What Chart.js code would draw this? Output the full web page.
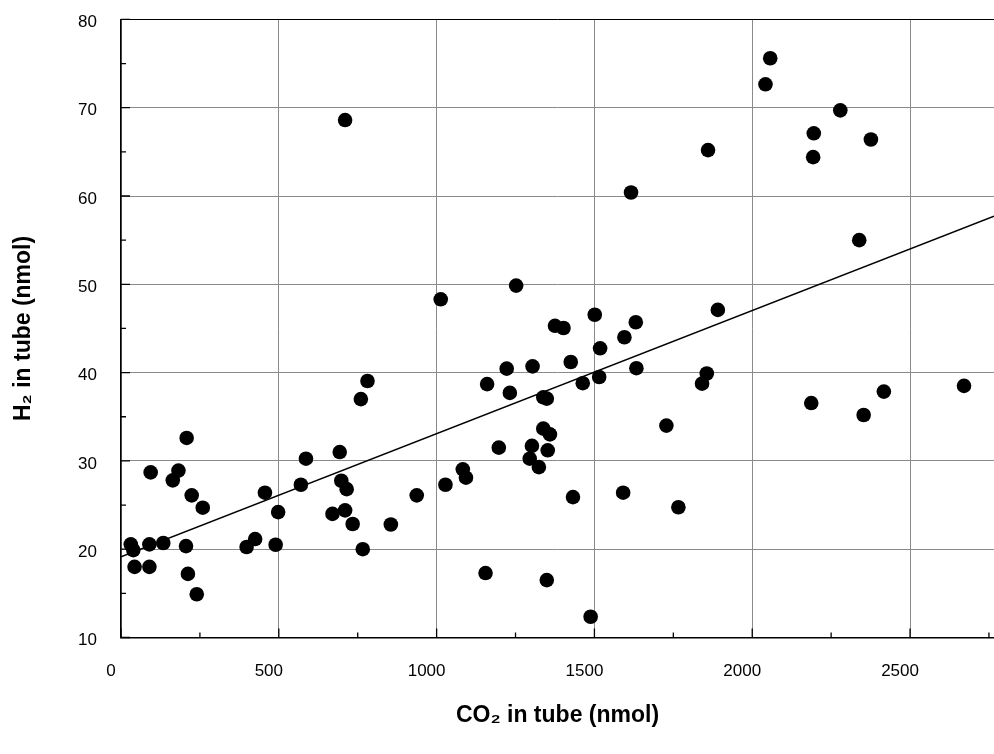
<!DOCTYPE html>
<html>
<head>
<meta charset="utf-8">
<script src="https://cdn.jsdelivr.net/npm/chart.js@4.4.0/dist/chart.umd.min.js"></script>
<style>
  html, body { margin: 0; padding: 0; background: #fff; }
  #wrap { width: 994px; height: 754px; }
</style>
</head>
<body>
<div id="wrap"><canvas id="chart" width="994" height="754"></canvas></div>
<script>
const co2 = [
    208, 94, 182, 164, 224, 259, 31, 39, 90, 134, 206, 43, 90, 212, 240,
    398, 425, 456, 498, 490, 570, 586,
    781, 760, 693, 698, 715, 670, 710, 734, 855, 766, 937, 1028, 1083, 1093, 710,
    1252, 1013, 1501, 1375, 1402, 1518, 1425, 1222, 1304, 1160, 1232, 1338, 1349,
    1463, 1515, 1338, 1359, 1197, 1302, 1352, 1295, 1324, 1432, 1155, 1349, 1488,
    1631, 1595, 1633, 1891, 1856, 1841, 1728, 1591, 1766,
    2057, 2042, 2279, 2195, 2376, 2193, 1860, 1616, 2339,
    2187, 2353, 2417, 2671
];
const h2 = [
    32.6, 28.7, 28.9, 27.8, 26.1, 24.7, 20.55, 19.9, 20.55, 20.7, 20.35, 18.0, 18.0, 17.2, 14.9,
    20.25, 21.15, 26.4, 24.2, 20.5, 27.3, 30.25,
    39.05, 37.0, 31.0, 27.75, 26.8, 24.0, 24.4, 22.85, 22.8, 20.0, 26.1, 27.3, 29.05, 28.1, 68.6,
    49.85, 48.3, 46.55, 45.3, 45.05, 42.75, 41.2, 40.45, 40.7, 38.7, 37.7, 37.2, 37.05,
    38.8, 39.5, 33.65, 33.0, 31.5, 31.7, 31.2, 30.25, 29.3, 25.9, 17.3, 16.5, 12.35,
    45.7, 44.0, 40.5, 47.1, 39.9, 38.75, 34.0, 26.4, 24.75,
    75.6, 72.65, 69.7, 67.1, 66.4, 64.4, 65.2, 60.4, 55.0,
    36.55, 35.2, 37.85, 38.5
];

// Linear fit shown in the figure
const fitIntercept = 19.15;
const fitSlope = 0.01394;

// Axis ranges and ticks
const xMin = 0, xMax = 2766;
const yMin = 10, yMax = 80;
const xTickValues = [0, 500, 1000, 1500, 2000, 2500];
const xMinorTicks = [250, 750, 1250, 1750, 2250, 2750];
const yTickValues = [10, 20, 30, 40, 50, 60, 70, 80];
const yMinorTicks = [15, 25, 35, 45, 55, 65, 75];

const points = co2.map((x, i) => ({ x: x, y: h2[i] }));
const fitLine = [xMin, xMax].map(x => ({ x: x, y: fitIntercept + fitSlope * x }));

const FONT = "'Liberation Sans', Arial, sans-serif";

// Inward tick marks on both axes
const tickMarks = {
    id: 'tickMarks',
    afterDatasetsDraw(chart) {
        const { ctx, chartArea, scales } = chart;
        ctx.save();
        ctx.strokeStyle = '#000';
        ctx.lineWidth = 1.3;
        ctx.beginPath();
        const markX = (vals, len) => {
            vals.forEach(v => {
                const px = scales.x.getPixelForValue(v);
                if (px > chartArea.right) return;
                ctx.moveTo(px, chartArea.bottom);
                ctx.lineTo(px, chartArea.bottom - len);
            });
        };
        const markY = (vals, len) => {
            vals.forEach(v => {
                const py = scales.y.getPixelForValue(v);
                ctx.moveTo(chartArea.left, py);
                ctx.lineTo(chartArea.left + len, py);
            });
        };
        markX(xTickValues, 9);
        markX(xMinorTicks, 5);
        markY(yTickValues, 9);
        markY(yMinorTicks, 5);
        ctx.stroke();
        ctx.restore();
    }
};

new Chart(document.getElementById('chart'), {
    type: 'scatter',
    data: {
        datasets: [
            {
                data: points,
                backgroundColor: '#000',
                borderColor: '#000',
                pointRadius: 7.3,
                pointHoverRadius: 7.3,
                borderWidth: 0
            },
            {
                type: 'line',
                data: fitLine,
                borderColor: '#000',
                borderWidth: 1.5,
                pointRadius: 0,
                fill: false
            }
        ]
    },
    options: {
        responsive: false,
        animation: false,
        layout: { autoPadding: false, padding: { left: 0, top: 19.4, right: 0, bottom: 0 } },
        plugins: {
            legend: { display: false },
            tooltip: { enabled: false }
        },
        scales: {
            x: {
                type: 'linear',
                min: xMin,
                max: xMax,
                afterBuildTicks: s => { s.ticks = xTickValues.map(v => ({ value: v })); },
                afterFit: s => { s.height = 116.5; },
                grid: {
                    color: '#8a8a8a',
                    lineWidth: 1,
                    drawTicks: false
                },
                border: { color: '#000', width: 1.5 },
                ticks: {
                    color: '#000',
                    font: { family: FONT, size: 17 },
                    padding: 24,
                    labelOffset: -10,
                    maxRotation: 0,
                    callback: v => String(v)
                },
                title: {
                    display: true,
                    text: 'CO₂ in tube (nmol)',
                    color: '#000',
                    font: { family: FONT, size: 23, weight: 'bold' },
                    padding: { top: 0, bottom: 25 }
                }
            },
            y: {
                type: 'linear',
                min: yMin,
                max: yMax,
                afterBuildTicks: s => { s.ticks = yTickValues.map(v => ({ value: v })); },
                afterFit: s => {
                    s.width = 121;
                    // keep the tick label padding from pushing the plot down
                    s.paddingTop = 10;
                    s.paddingBottom = 10;
                },
                grid: {
                    color: c => (c.tick && c.tick.value === yMax) ? '#000' : '#8a8a8a',
                    lineWidth: 1,
                    drawTicks: false
                },
                border: { color: '#000', width: 1.5 },
                ticks: {
                    color: '#000',
                    font: { family: FONT, size: 17 },
                    padding: 24,
                    labelOffset: 3,
                    callback: v => String(v)
                },
                title: {
                    display: true,
                    text: 'H₂ in tube (nmol)',
                    color: '#000',
                    font: { family: FONT, size: 23, weight: 'bold' },
                    padding: { top: 10, bottom: 0 }
                }
            }
        }
    },
    plugins: [tickMarks]
});
</script>
</body>
</html>
